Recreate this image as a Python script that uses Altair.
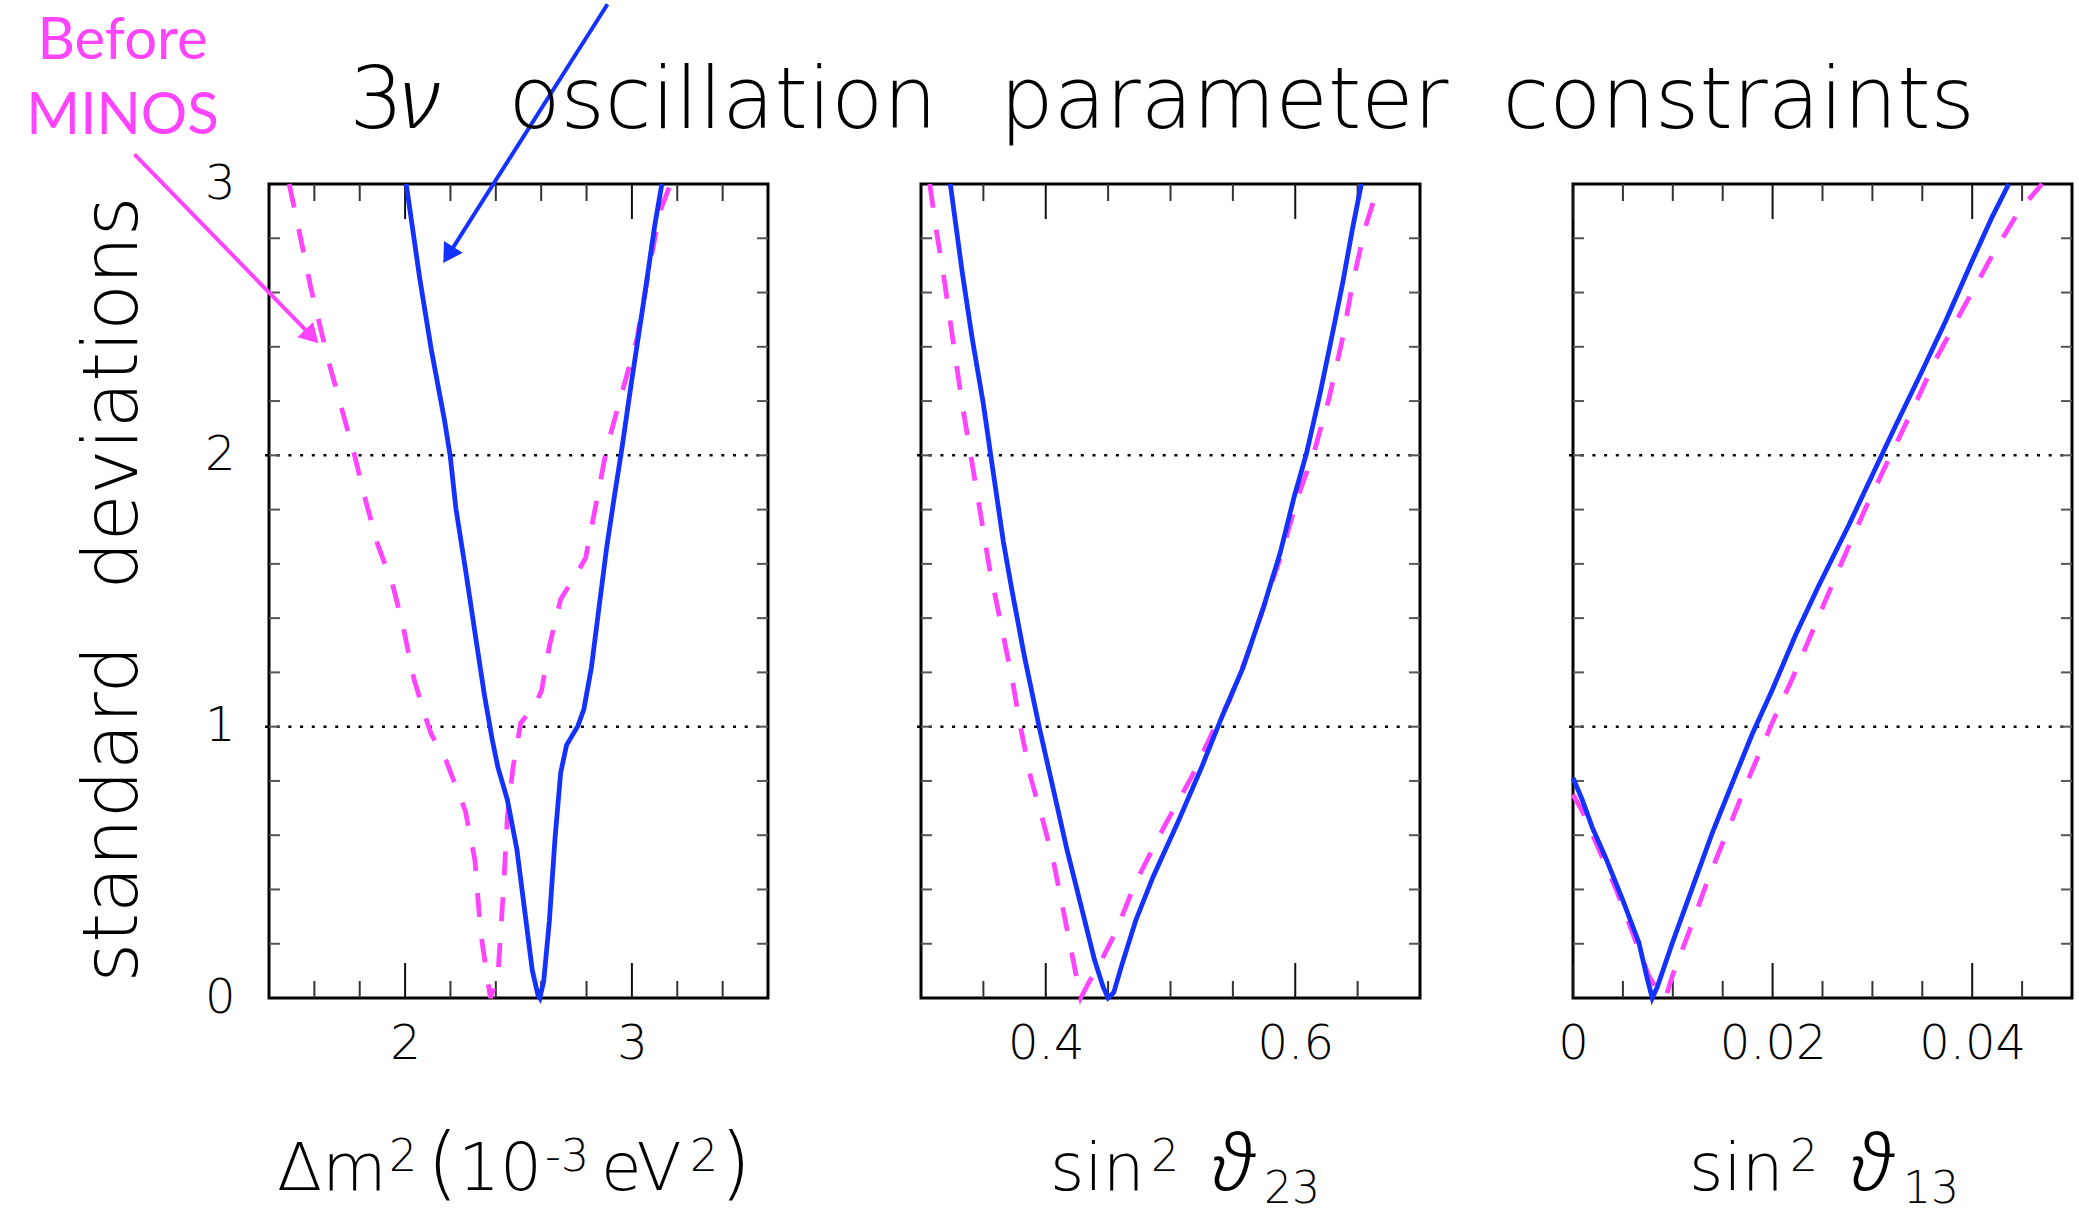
import altair as alt
import pandas as pd

# ---------------- data ----------------
# panel 1 : Delta m^2 (10^-3 eV^2)
dm2_new_x = [2.005, 2.064, 2.115, 2.174, 2.199, 2.224, 2.266, 2.317, 2.350, 2.384, 2.409, 2.451, 2.493,
             2.527, 2.561, 2.586, 2.594, 2.611, 2.636, 2.661, 2.686, 2.712, 2.762, 2.788, 2.821, 2.855,
             2.889, 2.922, 2.956, 2.998, 3.057, 3.099, 3.132]
dm2_new_y = [3.0, 2.655, 2.392, 2.128, 1.997, 1.804, 1.581, 1.297, 1.115, 0.953, 0.851, 0.730, 0.547,
             0.324, 0.101, 0.010, 0.0, 0.061, 0.284, 0.588, 0.831, 0.932, 1.003, 1.064, 1.216, 1.439,
             1.662, 1.845, 2.027, 2.270, 2.595, 2.838, 3.0]
dm2_old_x = [1.489, 1.535, 1.585, 1.661, 1.728, 1.778, 1.829, 1.879, 1.946, 1.989, 2.039, 2.090, 2.115,
             2.182, 2.266, 2.308, 2.333, 2.376, 2.409, 2.434, 2.451, 2.476, 2.510, 2.577, 2.602, 2.636,
             2.686, 2.754, 2.796, 2.838, 2.889, 2.956, 3.023, 3.082, 3.124, 3.170]
dm2_old_y = [3.0, 2.818, 2.615, 2.351, 2.149, 1.997, 1.824, 1.672, 1.520, 1.378, 1.176, 1.034, 0.973,
             0.872, 0.689, 0.507, 0.243, 0.0, 0.081, 0.405, 0.669, 0.851, 1.014, 1.084, 1.135, 1.297,
             1.470, 1.561, 1.622, 1.804, 2.027, 2.230, 2.432, 2.716, 2.899, 3.0]

# panel 2 : sin^2 theta_23
s23_new_x = [0.3235, 0.333, 0.341, 0.350, 0.357, 0.366, 0.373, 0.383, 0.395, 0.406, 0.417, 0.428, 0.439,
             0.446, 0.450, 0.4545, 0.461, 0.472, 0.486, 0.506, 0.525, 0.541, 0.558, 0.5745, 0.588, 0.599,
             0.609, 0.620, 0.630, 0.638, 0.646, 0.653]
s23_new_y = [3.0, 2.676, 2.432, 2.189, 1.966, 1.682, 1.500, 1.257, 0.993, 0.770, 0.547, 0.345, 0.142,
             0.041, 0.0, 0.020, 0.122, 0.284, 0.446, 0.649, 0.851, 1.034, 1.216, 1.439, 1.642, 1.845,
             2.007, 2.230, 2.453, 2.635, 2.838, 3.0]
s23_old_x = [0.307, 0.312, 0.319, 0.326, 0.333, 0.340, 0.347, 0.355, 0.365, 0.373, 0.380, 0.388, 0.398,
             0.406, 0.414, 0.421, 0.428, 0.435, 0.445, 0.456, 0.472, 0.4945, 0.5165, 0.533, 0.547, 0.561,
             0.5745, 0.588, 0.602, 0.616, 0.627, 0.638, 0.646, 0.656, 0.667]
s23_old_y = [3.0, 2.838, 2.635, 2.412, 2.189, 1.997, 1.804, 1.581, 1.358, 1.176, 0.993, 0.811, 0.649,
             0.507, 0.324, 0.162, 0.0, 0.061, 0.142, 0.243, 0.426, 0.628, 0.811, 0.973, 1.095, 1.257,
             1.439, 1.622, 1.845, 2.027, 2.209, 2.432, 2.635, 2.838, 3.0]

# panel 3 : sin^2 theta_13
s13_new_x = [0.0, 0.00093, 0.00194, 0.00327, 0.00494, 0.00661, 0.00744, 0.00794, 0.00845, 0.00995,
             0.01195, 0.01395, 0.01595, 0.01796, 0.01996, 0.0223, 0.02463, 0.02764, 0.02997, 0.03231,
             0.03498, 0.03732, 0.03999, 0.04199, 0.04366]
s13_new_y = [0.811, 0.730, 0.628, 0.517, 0.365, 0.203, 0.071, 0.0, 0.041, 0.203, 0.405, 0.608, 0.791,
             0.973, 1.135, 1.338, 1.520, 1.743, 1.926, 2.108, 2.311, 2.493, 2.716, 2.878, 3.0]
s13_old_x = [0.0, 0.00093, 0.0026, 0.00427, 0.00594, 0.00761, 0.00861, 0.00928, 0.00995, 0.01162,
             0.01362, 0.01562, 0.01762, 0.01996, 0.02196, 0.0243, 0.02663, 0.0293, 0.03164, 0.0343,
             0.03631, 0.03898, 0.04199, 0.04466, 0.047]
s13_old_y = [0.750, 0.689, 0.547, 0.405, 0.243, 0.081, 0.020, 0.0, 0.081, 0.243, 0.446, 0.628, 0.811,
             1.014, 1.176, 1.378, 1.581, 1.804, 1.986, 2.189, 2.351, 2.534, 2.736, 2.899, 3.0]

# axes
dm2_domain = [1.4, 3.6]
dm2_major = [2.0, 3.0]
dm2_minor = [1.6, 1.8, 2.2, 2.4, 2.6, 2.8, 3.2, 3.4]
s23_domain = [0.3, 0.7]
s23_major = [0.4, 0.6]
s23_minor = [0.35, 0.45, 0.5, 0.55, 0.65]
s13_domain = [0.0, 0.05]
s13_major = [0.0, 0.02, 0.04]
s13_minor = [0.005, 0.01, 0.015, 0.025, 0.03, 0.035, 0.045]
y_labels = [0, 1, 2, 3]
y_ticks = [0.2, 0.4, 0.6, 0.8, 1.0, 1.2, 1.4, 1.6, 1.8, 2.0, 2.2, 2.4, 2.6, 2.8]
sigma_lines = [1, 2]

# texts
title_text = ["3", "\u03bd", "oscillation\u00a0\u00a0\u200aparameter\u00a0\u00a0constraints"]
title_x = [-0.1581, -0.1172, -0.0307]   # panel-2 data units
title_italic = [False, True, False]
title_y = 3.2053
y_title = "standard\u00a0\u00a0\u200adeviations"
# x-axis titles, written piece by piece (m = main, p = superscript, b = subscript,
# g = greek letter, q = parenthesis); offsets are from each panel's left edge
xt1_text = ["\u0394m", "2", "(", "10", "-3", "eV", "2", ")"]
xt1_kind = ["m", "p", "q", "m", "p", "m", "p", "q"]
xt1_dx = [8, 120, 158, 189, 276, 332, 421, 451]
xt2_text = ["sin", "2", "\u03d1", "23"]
xt2_kind = ["m", "p", "g", "b"]
xt2_dx = [129, 230, 292, 343]
xt3_text = ["sin", "2", "\u03d1", "13"]
xt3_kind = ["m", "p", "g", "b"]
xt3_dx = [116, 217, 279, 330]
before_lines = ["Before", "MINOS"]

# annotation anchor points (in panel-1 data units)
before_x = [0.7541, 0.7541]
before_y = [3.4596, 3.1832]
blue_arrow = dict(x=[2.8924], y=[3.6623], x2=[2.1905], y2=[2.7383])
mag_arrow = dict(x=[0.8070], y=[3.1095], x2=[1.5887], y2=[2.4383])
canvas_corner = dict(x=[0.2250], y=[3.6697])

# ---------------- styling ----------------
W, H = 499, 814
BLUE = "#1432FF"
MAG = "#FF44FF"
FONT = "DejaVu Sans"
FW = 200
XT_BASE = H + 192
# kind -> (font, size, dy, weight, style)
KIND_STYLE = {"m": (FONT, 66, 0, FW, "normal"), "p": (FONT, 44, -19, FW, "normal"),
              "b": (FONT, 44, 13, FW, "normal"), "g": ("Noto Sans", 78, 0, 300, "italic"),
              "q": (FONT, 80, 0, FW, "normal")}
yscale = alt.Scale(domain=[0, 3], nice=False, zero=False)


def curve_df(xs, ys):
    return pd.DataFrame({"x": xs, "y": ys, "o": list(range(len(xs)))})


def panel(new_x, new_y, old_x, old_y, domain, major, minor, xt, show_y, extra=None):
    xscale = alt.Scale(domain=domain, nice=False, zero=False)
    xaxis = alt.Axis(values=major, format="~g", labelFontSize=48, labelFont=FONT, labelFontWeight=FW,
                     labelColor="black", labelPadding=22, ticks=False, tickSize=0, domain=False,
                     grid=False, labelFlush=False, title="")
    if show_y:
        yaxis = alt.Axis(values=y_labels, labelFontSize=48, labelFont=FONT, labelFontWeight=FW,
                         labelColor="black", labelPadding=34, ticks=False, tickSize=0, domain=False,
                         grid=False, labelFlush=False, labelBaseline="middle", title=y_title,
                         titleFontSize=76, titleFont=FONT, titleFontWeight=FW, titleColor="black",
                         titleBaseline="alphabetic", titleX=-133, titleY=405, titleAlign="center")
    else:
        yaxis = None

    def X(f):
        return alt.X(f, scale=xscale, axis=xaxis)

    def Y(f):
        return alt.Y(f, scale=yscale, axis=yaxis)

    layers = []
    # dotted sigma lines
    layers.append(alt.Chart(pd.DataFrame({"v": sigma_lines})).mark_rule(
        color="black", strokeWidth=2.5, strokeDash=[3, 8.7], strokeCap="butt").encode(
        y=Y("v:Q"), x=alt.value(-4), x2=alt.value(W)))
    # x ticks top & bottom
    for vals, L, col in ((minor, 17, "#333333"), (major, 35, "#111111")):
        df = pd.DataFrame({"v": vals})
        layers.append(alt.Chart(df).mark_rule(color=col, strokeWidth=2).encode(
            x=X("v:Q"), y=alt.value(0), y2=alt.value(L)))
        layers.append(alt.Chart(df).mark_rule(color=col, strokeWidth=2).encode(
            x=X("v:Q"), y=alt.value(H), y2=alt.value(H - L)))
    # y ticks left & right
    ydf = pd.DataFrame({"v": y_ticks})
    layers.append(alt.Chart(ydf).mark_rule(color="#555555", strokeWidth=2).encode(
        y=Y("v:Q"), x=alt.value(0), x2=alt.value(11)))
    layers.append(alt.Chart(ydf).mark_rule(color="#555555", strokeWidth=2).encode(
        y=Y("v:Q"), x=alt.value(W), x2=alt.value(W - 11)))
    # curves
    layers.append(alt.Chart(curve_df(old_x, old_y)).mark_line(
        color=MAG, strokeWidth=4.8, strokeDash=[24, 22], strokeCap="butt").encode(
        x=X("x:Q"), y=Y("y:Q"), order="o:Q"))
    layers.append(alt.Chart(curve_df(new_x, new_y)).mark_line(
        color=BLUE, strokeWidth=4.8).encode(x=X("x:Q"), y=Y("y:Q"), order="o:Q"))
    # x-axis title pieces
    texts, kinds, dxs = xt
    for t, k, dx in zip(texts, kinds, dxs):
        fnt, fs, dy, fw, fst = KIND_STYLE[k]
        layers.append(alt.Chart(pd.DataFrame({"t": [t]})).mark_text(
            font=fnt, fontSize=fs, fontWeight=fw, fontStyle=fst, color="black", align="left",
            baseline="alphabetic").encode(x=alt.value(dx), y=alt.value(XT_BASE + dy), text="t:N"))
    if extra:
        layers += extra(X, Y)
    return alt.layer(*layers).properties(width=W, height=H)


def panel1_extra(X, Y):
    out = []
    out.append(alt.Chart(pd.DataFrame(canvas_corner)).mark_point(
        size=0, strokeWidth=0, opacity=0).encode(x=X("x:Q"), y=Y("y:Q")))
    for arr, col, ang in ((blue_arrow, BLUE, 212), (mag_arrow, MAG, 136)):
        df = pd.DataFrame(arr)
        out.append(alt.Chart(df).mark_rule(color=col, strokeWidth=4, strokeCap="butt").encode(
            x=X("x:Q"), y=Y("y:Q"), x2="x2:Q", y2="y2:Q"))
        out.append(alt.Chart(df).mark_point(shape="triangle-up", filled=True, size=484, color=col,
                                            opacity=1, angle=ang).encode(x=X("x2:Q"), y=Y("y2:Q")))
    out.append(alt.Chart(pd.DataFrame({"x": before_x, "y": before_y, "t": before_lines})).mark_text(
        font="Lato", fontSize=58, color=MAG, align="center", baseline="alphabetic").encode(
        x=X("x:Q"), y=Y("y:Q"), text="t:N"))
    return out


def panel2_extra(X, Y):
    out = []
    for t, x, it in zip(title_text, title_x, title_italic):
        df = pd.DataFrame({"x": [x], "y": [title_y], "t": [t]})
        if it:
            mk = alt.Chart(df).mark_text(font="Noto Sans", fontWeight=300, fontStyle="italic",
                                         fontSize=85, color="black", align="left",
                                         baseline="alphabetic")
        else:
            mk = alt.Chart(df).mark_text(font=FONT, fontWeight=FW, fontSize=85, color="black",
                                         align="left", baseline="alphabetic")
        out.append(mk.encode(x=X("x:Q"), y=Y("y:Q"), text="t:N"))
    return out


p1 = panel(dm2_new_x, dm2_new_y, dm2_old_x, dm2_old_y, dm2_domain, dm2_major, dm2_minor,
           (xt1_text, xt1_kind, xt1_dx), True, panel1_extra)
p2 = panel(s23_new_x, s23_new_y, s23_old_x, s23_old_y, s23_domain, s23_major, s23_minor,
           (xt2_text, xt2_kind, xt2_dx), False, panel2_extra)
p3 = panel(s13_new_x, s13_new_y, s13_old_x, s13_old_y, s13_domain, s13_major, s13_minor,
           (xt3_text, xt3_kind, xt3_dx), False)

chart = alt.hconcat(p1, p2, p3, spacing=153, bounds="flush").properties(
    padding=0, background="white"
).configure_view(stroke="black", strokeWidth=3)

chart.save("out.html", embed_options={"renderer": "svg", "actions": False})
